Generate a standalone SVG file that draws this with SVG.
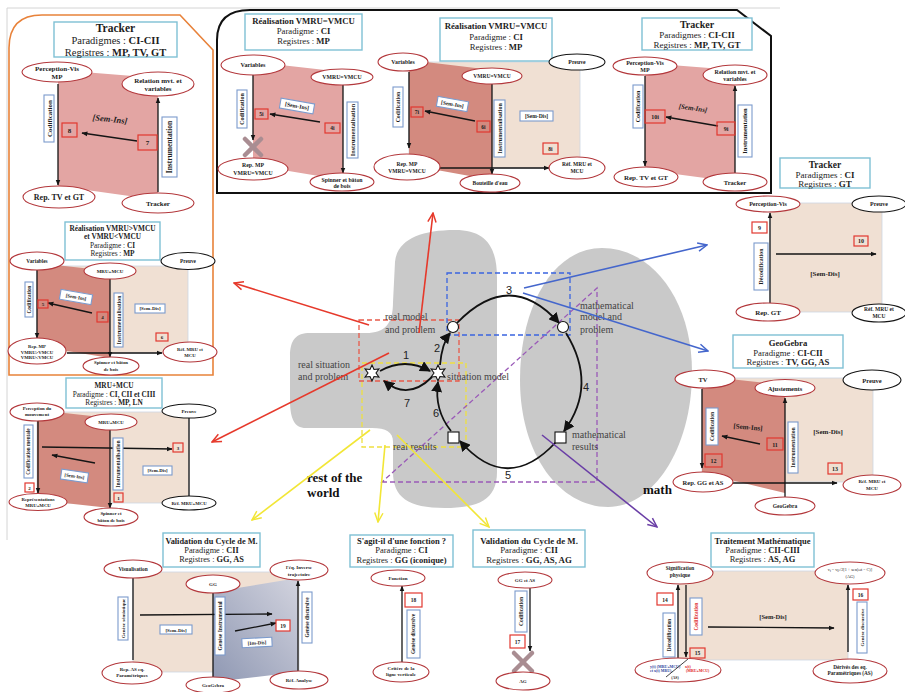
<svg xmlns="http://www.w3.org/2000/svg" width="905" height="692" viewBox="0 0 905 692">
<defs>
<style>
text{font-family:'Liberation Serif','DejaVu Serif',serif;fill:#1c1c1c;text-anchor:middle}
.b{font-weight:bold}
.i{font-style:italic;font-weight:bold}
.tb{fill:#fff;stroke:#7fc0d4;stroke-width:1.4}
.el{fill:#fff;stroke:#b3383c;stroke-width:1.1}
.ek{fill:#fff;stroke:#151515;stroke-width:1.1}
.lb{fill:#fff;stroke:#7c9bcd;stroke-width:1.1}
.nb{fill:none;stroke:#e2382f;stroke-width:1.2}
.ar{stroke:#151515;stroke-width:1.3;fill:none;marker-end:url(#a)}
.ln{stroke:#151515;stroke-width:1.3;fill:none}
.pk{fill:#e3a5a3}
.sa{fill:#d38a7f}
.be{fill:#f0e0d3;stroke:#cdd6e4;stroke-width:0.8}
.cy{stroke:#111;stroke-width:1.8;fill:none;marker-end:url(#A)}
.ct{font-family:'Liberation Serif','Times New Roman',serif;fill:#444;text-anchor:start;font-size:10px}
.cn{font-family:'Liberation Sans',sans-serif;fill:#222;font-size:11px}
.ds{fill:none;stroke-width:1.3;stroke-dasharray:5 3}
.cr{stroke:#e6392b;stroke-width:1.6;fill:none;marker-end:url(#mr)}
.cb{stroke:#4466cc;stroke-width:1.6;fill:none;marker-end:url(#mb)}
.cyl{stroke:#f2e636;stroke-width:1.6;fill:none;marker-end:url(#my)}
.cp{stroke:#6a3ea6;stroke-width:1.6;fill:none;marker-end:url(#mp)}
.x{stroke:#a98d92;stroke-width:4.5;stroke-linecap:round}
.shape{fill:#fff;stroke:#111;stroke-width:1.1}
</style>
<marker id="a" viewBox="0 0 10 10" refX="9" refY="5" markerWidth="6" markerHeight="6" markerUnits="userSpaceOnUse" orient="auto"><path d="M0,1 L10,5 L0,9 z" fill="#151515"/></marker>
<marker id="A" viewBox="0 0 10 10" refX="9" refY="5" markerWidth="11" markerHeight="11" markerUnits="userSpaceOnUse" orient="auto"><path d="M0,0 L10,5 L0,10 z" fill="#111"/></marker>
<marker id="mr" viewBox="0 0 12 12" refX="11" refY="6" markerWidth="11" markerHeight="11" markerUnits="userSpaceOnUse" orient="auto"><path d="M1,1.5 L11,6 L1,10.5" fill="none" stroke="#e6392b" stroke-width="1.6"/></marker>
<marker id="mb" viewBox="0 0 12 12" refX="11" refY="6" markerWidth="11" markerHeight="11" markerUnits="userSpaceOnUse" orient="auto"><path d="M1,1.5 L11,6 L1,10.5" fill="none" stroke="#4466cc" stroke-width="1.6"/></marker>
<marker id="my" viewBox="0 0 12 12" refX="11" refY="6" markerWidth="11" markerHeight="11" markerUnits="userSpaceOnUse" orient="auto"><path d="M1,1.5 L11,6 L1,10.5" fill="none" stroke="#f2e636" stroke-width="1.6"/></marker>
<marker id="mp" viewBox="0 0 12 12" refX="11" refY="6" markerWidth="11" markerHeight="11" markerUnits="userSpaceOnUse" orient="auto"><path d="M1,1.5 L11,6 L1,10.5" fill="none" stroke="#6a3ea6" stroke-width="1.6"/></marker>
<linearGradient id="gb" x1="0" y1="1" x2="1" y2="0"><stop offset="0" stop-color="#8f98b3"/><stop offset="1" stop-color="#d2d3de"/></linearGradient>
<polygon id="star" class="shape" points="0,-8 2,-3.5 6.9,-4 4,0 6.9,4 2,3.5 0,8 -2,3.5 -6.9,4 -4,0 -6.9,-4 -2,-3.5"/>
</defs>
<rect width="905" height="692" fill="#fff"/>
<path d="M7,540 L7,8 L780,8" fill="none" stroke="#d4d4d4" stroke-width="1"/>

<!-- frames -->
<path d="M9,375 L9,48 Q9,15 42,15 L180,15 L213,50 L213,375 Z" fill="none" stroke="#e8823a" stroke-width="1.6"/>
<path d="M217,193 L217,40 Q217,10 250,10 L737,10 L771,36 L771,193 Z" fill="none" stroke="#111" stroke-width="2"/>

<!-- centre -->
<g id="world">
<path fill="#c9c9c9" d="M455,230 C487,230 497,248 497,278 L497,472 C497,500 478,508 445,508 C408,508 393,497 393,472 L393,442 C393,432 386,428 372,428 L306,428 C294,428 290,418 290,400 L290,356 C290,340 296,333 310,333 L366,333 C385,333 393,324 393,302 L395,262 C397,240 420,230 455,230 Z"/>
<path fill="#c9c9c9" d="M602,248 C652,248 692,300 692,372 C692,450 652,507 608,507 C560,507 520,455 520,380 C520,305 554,248 602,248 Z"/>
<rect class="ds" stroke="#e85a4a" x="359" y="320" width="100" height="61"/>
<rect class="ds" stroke="#3a64e0" x="447" y="273" width="123" height="62"/>
<rect class="ds" stroke="#efe040" x="362" y="363" width="104" height="84"/>
<polygon class="ds" stroke="#9a5ab8" points="382,482 597,482 597,288"/>
<text class="ct" x="385" y="320">real model</text>
<text class="ct" x="385" y="332.5">and problem</text>
<text class="ct" x="298" y="367.5">real situation</text>
<text class="ct" x="298" y="379.5">and problem</text>
<text class="ct" x="447" y="379.5">situation model</text>
<text class="ct" x="580" y="308.5">mathematical</text>
<text class="ct" x="580" y="320">model and</text>
<text class="ct" x="580" y="332.5">problem</text>
<text class="ct" x="572" y="437.5">mathematical</text>
<text class="ct" x="572" y="450">results</text>
<text class="ct" x="393" y="450">real results</text>
<text class="b" x="307" y="482" font-size="13" style="text-anchor:start;fill:#111">rest of the</text>
<text class="b" x="307" y="497" font-size="13" style="text-anchor:start;fill:#111">world</text>
<text class="b" x="643" y="494" font-size="13" style="text-anchor:start;fill:#111">math</text>
</g>
<g id="cycle">
<path class="cy" d="M380,371 Q405,357 430,371"/>
<path class="cy" d="M432,377 Q408,401 384,381"/>
<path class="cy" d="M440,365 Q442,343 450,333"/>
<path class="cy" d="M457,323 Q510,268 559,323"/>
<path class="cy" d="M566,333 Q598,385 564,431"/>
<path class="cy" d="M556,442 Q507,495 460,441"/>
<path class="cy" d="M451,431 Q434,410 438,382"/>
<use href="#star" transform="translate(372,373)"/>
<use href="#star" transform="translate(438,373)"/>
<circle class="shape" cx="453" cy="327" r="5.5"/>
<circle class="shape" cx="563" cy="327" r="5.5"/>
<rect class="shape" x="555" y="432" width="11" height="11"/>
<rect class="shape" x="448" y="432" width="11" height="11"/>
<text class="cn" x="406" y="359">1</text>
<text class="cn" x="437" y="352">2</text>
<text class="cn" x="509" y="294">3</text>
<text class="cn" x="586" y="391">4</text>
<text class="cn" x="508" y="479">5</text>
<text class="cn" x="436" y="417">6</text>
<text class="cn" x="407" y="407">7</text>
</g>

<!-- connectors -->
<g id="connectors">
<line class="cr" x1="419" y1="333" x2="433" y2="213"/>
<line class="cr" x1="369" y1="325" x2="234" y2="283"/>
<line class="cr" x1="389" y1="353" x2="212" y2="442"/>
<line class="cb" x1="524" y1="288" x2="707" y2="245"/>
<line class="cb" x1="523" y1="293" x2="708" y2="351"/>
<line class="cyl" x1="370" y1="430" x2="252" y2="520"/>
<line class="cyl" x1="385" y1="445" x2="378" y2="522"/>
<line class="cyl" x1="397" y1="435" x2="489" y2="527"/>
<line class="cp" x1="542" y1="435" x2="657" y2="527"/>
</g>

<!-- Tracker top-left -->
<g id="tracker-1">
<rect class="tb" x="54" y="22" width="123" height="35"/>
<text x="115.5" y="32" font-size="11.5" class="b">Tracker</text>
<text x="115.5" y="44" font-size="10.5">Paradigmes : <tspan class="b">CI-CII</tspan></text>
<text x="115.5" y="55.5" font-size="10.5">Registres : <tspan class="b">MP, TV, GT</tspan></text>
<polygon class="pk" points="58,70 158,78 158,200 58,186"/>
<line class="ar" x1="58" y1="84" x2="58" y2="185"/>
<line class="ar" x1="158" y1="192" x2="158" y2="98"/>
<line class="ar" x1="137" y1="141" x2="82" y2="133"/>
<rect class="lb" x="44" y="95" width="10" height="47"/>
<text transform="rotate(-90 49 118.5)" x="49" y="121" font-size="7" class="b">Codification</text>
<rect class="lb" x="162" y="117" width="15" height="60"/>
<text transform="rotate(-90 169.5 147)" x="169.5" y="149.5" font-size="7.5" class="b">Instrumentation</text>
<text transform="rotate(6 110 119)" x="110" y="122" font-size="8.5" class="i">[Sem-Ins]</text>
<rect class="nb" x="62" y="123" width="15" height="14"/>
<text x="69.5" y="132.5" font-size="7" class="b">8</text>
<rect class="nb" x="138" y="135" width="19" height="15"/>
<text x="147.5" y="145" font-size="7" class="b">7</text>
<ellipse class="el" cx="57" cy="72" rx="35" ry="10"/>
<text x="57" y="70.5" font-size="7" class="b">Perception-Vis</text>
<text x="57" y="78.5" font-size="7" class="b">MP</text>
<ellipse class="el" cx="158" cy="84" rx="36" ry="12"/>
<text x="158" y="82.5" font-size="7" class="b">Relation mvt. et</text>
<text x="158" y="91" font-size="7" class="b">variables</text>
<ellipse class="el" cx="59" cy="197" rx="36" ry="11"/>
<text x="59" y="200" font-size="8" class="b">Rep. TV et GT</text>
<ellipse class="el" cx="158" cy="203" rx="36" ry="10"/>
<text x="158" y="206" font-size="7" class="b">Tracker</text>
</g>

<!-- Realisation VMRU>VMCU -->
<g id="realisation-ineq">
<rect class="tb" x="65" y="222" width="95" height="38"/>
<text x="112.5" y="231" font-size="7.3" class="b">Réalisation VMRU&gt;VMCU</text>
<text x="112.5" y="239" font-size="7.3" class="b">et VMRU&lt;VMCU</text>
<text x="112.5" y="247.5" font-size="7.3">Paradigme : <tspan class="b">CI</tspan></text>
<text x="112.5" y="256" font-size="7.3">Registres : <tspan class="b">MP</tspan></text>
<rect class="be" x="37" y="266" width="151" height="87"/>
<polygon class="sa" points="37,263 110,271 110,358 37,346"/>
<line class="ar" x1="37" y1="270" x2="37" y2="338"/>
<line class="ar" x1="110" y1="279" x2="110" y2="357"/>
<line class="ar" x1="67" y1="353" x2="162" y2="353"/>
<line class="ar" x1="92" y1="313" x2="48" y2="303"/>
<rect class="lb" x="25" y="282" width="8" height="35"/>
<text transform="rotate(-90 29 299.5)" x="29" y="301.4" font-size="5.3" class="b">Codification</text>
<rect class="lb" x="114" y="293" width="9" height="54"/>
<text transform="rotate(-90 118.5 320)" x="118.5" y="322" font-size="5.8" class="b">Instrumentalisation</text>
<g transform="rotate(10 76 297)"><rect class="lb" x="60" y="292" width="32" height="10"/><text x="76" y="298.8" font-size="5" class="b">[Sem-Ins]</text></g>
<rect class="lb" x="135" y="304" width="30" height="9"/>
<text x="150" y="310.3" font-size="5" class="b">[Sem-Dis]</text>
<rect class="nb" x="38" y="300" width="10" height="8"/><text x="43" y="306" font-size="5" class="b">5</text>
<rect class="nb" x="97" y="312" width="11" height="10"/><text x="102.5" y="319" font-size="5" class="b">4</text>
<rect class="nb" x="156" y="333" width="12" height="8"/><text x="162" y="339" font-size="5" class="b">6</text>
<ellipse class="el" cx="37" cy="261" rx="27" ry="9"/><text x="37" y="263" font-size="5.3" class="b">Variables</text>
<ellipse class="ek" cx="188" cy="261" rx="27" ry="8.5"/><text x="188" y="263" font-size="5.3" class="b">Preuve</text>
<ellipse class="el" cx="110" cy="271" rx="26" ry="8"/><text x="110" y="273" font-size="5" class="b">MRU+MCU</text>
<ellipse class="el" cx="37" cy="351" rx="29" ry="13"/>
<text x="37" y="348" font-size="4.8" class="b">Rep. MP</text>
<text x="37" y="353.5" font-size="4.8" class="b">VMRU&gt;VMCU</text>
<text x="37" y="359" font-size="4.8" class="b">VMRU&lt;VMCU</text>
<ellipse class="el" cx="190" cy="352" rx="27" ry="10"/>
<text x="190" y="350.5" font-size="4.8" class="b">Réf. MRU et</text>
<text x="190" y="356.7" font-size="4.8" class="b">MCU</text>
<ellipse class="el" cx="111" cy="366" rx="28" ry="9"/>
<text x="111" y="364.4" font-size="4.8" class="b">Spinner et bâton</text>
<text x="111" y="371" font-size="4.8" class="b">de bois</text>
</g>

<!-- MRU+MCU -->
<g id="mru-mcu">
<rect class="tb" x="66" y="378" width="96" height="30"/>
<text x="114" y="387.5" font-size="7.3" class="b">MRU+MCU</text>
<text x="114" y="396.5" font-size="7.3">Paradigme : <tspan class="b">CI, CII et CIII</tspan></text>
<text x="114" y="405" font-size="7.3">Registres : <tspan class="b">MP, LN</tspan></text>
<rect class="be" x="37" y="412" width="152" height="91"/>
<polygon class="sa" points="37,410 110,418 110,508 37,500"/>
<line class="ar" x1="38" y1="420" x2="38" y2="493"/>
<line class="ar" x1="110" y1="430" x2="110" y2="508"/>
<line class="ln" x1="189" y1="418" x2="189" y2="496"/>
<line class="ar" x1="42" y1="447" x2="172" y2="449"/>
<line class="ar" x1="95" y1="463" x2="52" y2="455"/>
<rect class="lb" x="24" y="425" width="9" height="53"/>
<text transform="rotate(-90 28.5 451.5)" x="28.5" y="453.3" font-size="5.2" class="b">Codification mentale</text>
<rect class="lb" x="113" y="438" width="10" height="52"/>
<text transform="rotate(-90 118 464)" x="118" y="466" font-size="5.6" class="b">Instrumentalisation</text>
<g transform="rotate(8 74.5 476)"><rect class="lb" x="61" y="471" width="27" height="10"/><text x="74.5" y="477.8" font-size="4.8" class="b">[Sem-Ins]</text></g>
<rect class="lb" x="143" y="466" width="29" height="9"/><text x="157.5" y="472.3" font-size="4.8" class="b">[Sem-Dis]</text>
<rect class="nb" x="173" y="443" width="10" height="9"/><text x="178" y="449.5" font-size="5" class="b">3</text>
<rect class="nb" x="25" y="483" width="9" height="9"/><text x="29.5" y="489.5" font-size="5" class="b">2</text>
<rect class="nb" x="114" y="493" width="9" height="9"/><text x="118.5" y="499.5" font-size="5" class="b">1</text>
<ellipse class="el" cx="37" cy="412" rx="27" ry="9"/>
<text x="37" y="410" font-size="4.8" class="b">Perception du</text>
<text x="37" y="416" font-size="4.8" class="b">mouvement</text>
<ellipse class="ek" cx="189" cy="411" rx="27" ry="7"/><text x="189" y="413" font-size="5" class="b">Preuve</text>
<ellipse class="el" cx="111" cy="422" rx="26" ry="8"/><text x="111" y="424" font-size="4.8" class="b">MRU+MCU</text>
<ellipse class="el" cx="38" cy="502" rx="29" ry="8.5"/>
<text x="38" y="500.5" font-size="4.8" class="b">Représentations</text>
<text x="38" y="506.5" font-size="4.8" class="b">MRU+MCU</text>
<ellipse class="ek" cx="189" cy="503" rx="27" ry="7"/><text x="189" y="505" font-size="4.8" class="b">Réf. MRU+MCU</text>
<ellipse class="el" cx="111" cy="517" rx="27" ry="9"/>
<text x="111" y="515" font-size="4.8" class="b">Spinner et</text>
<text x="111" y="521.7" font-size="4.8" class="b">bâton de bois</text>
</g>

<!-- Realisation VMRU=VMCU 1 -->
<g id="realisation-eq-1">
<rect class="tb" x="245" y="14" width="117" height="36"/>
<text x="303.5" y="24.3" font-size="8.7" class="b">Réalisation VMRU=VMCU</text>
<text x="303.5" y="34.3" font-size="8.7">Paradigme : <tspan class="b">CI</tspan></text>
<text x="303.5" y="44.3" font-size="8.7">Registres : <tspan class="b">MP</tspan></text>
<polygon class="pk" points="253,62 343,72 343,180 253,165"/>
<line class="ar" x1="253" y1="75" x2="253" y2="140"/>
<line class="ar" x1="343" y1="85" x2="343" y2="173"/>
<line class="ar" x1="320" y1="122" x2="270" y2="114"/>
<line class="x" x1="245" y1="139" x2="261" y2="155"/>
<line class="x" x1="261" y1="139" x2="245" y2="155"/>
<rect class="lb" x="237" y="90" width="10" height="38"/>
<text transform="rotate(-90 242 109)" x="242" y="111" font-size="6" class="b">Codification</text>
<rect class="lb" x="347" y="102" width="11" height="56"/>
<text transform="rotate(-90 352.5 130)" x="352.5" y="132" font-size="6.2" class="b">Instrumentalisation</text>
<g transform="rotate(10 297 106)"><rect class="lb" x="280" y="101" width="34" height="10"/><text x="297" y="108" font-size="5.8" class="b">[Sem-Ins]</text></g>
<rect class="nb" x="255" y="109" width="13" height="10"/><text x="261.5" y="116" font-size="5.5" class="b">5i</text>
<rect class="nb" x="325" y="123" width="15" height="10"/><text x="332.5" y="130" font-size="5.5" class="b">4i</text>
<ellipse class="el" cx="253" cy="65" rx="32" ry="10"/><text x="253" y="67.2" font-size="6.2" class="b">Variables</text>
<ellipse class="el" cx="342" cy="77" rx="31" ry="8"/><text x="342" y="79" font-size="5.8" class="b">VMRU=VMCU</text>
<ellipse class="el" cx="253" cy="169" rx="35" ry="11"/>
<text x="253" y="167" font-size="5.8" class="b">Rep. MP</text>
<text x="253" y="174.5" font-size="5.8" class="b">VMRU=VMCU</text>
<ellipse class="el" cx="342" cy="182" rx="32" ry="9"/>
<text x="342" y="181.5" font-size="5.8" class="b">Spinner et bâton</text>
<text x="342" y="188" font-size="5.8" class="b">de bois</text>
</g>

<!-- Realisation VMRU=VMCU 2 -->
<g id="realisation-eq-2">
<rect class="be" x="409" y="62" width="171" height="106"/>
<polygon class="sa" points="409,60 492,70 492,180 409,165"/>
<rect class="tb" x="440" y="18" width="112" height="43"/>
<text x="496" y="29" font-size="8.7" class="b">Réalisation VMRU=VMCU</text>
<text x="496" y="39.5" font-size="8.7">Paradigme : <tspan class="b">CI</tspan></text>
<text x="496" y="50" font-size="8.7">Registres : <tspan class="b">MP</tspan></text>
<line class="ar" x1="409" y1="72" x2="409" y2="148"/>
<line class="ar" x1="492" y1="84" x2="492" y2="174"/>
<line class="ar" x1="440" y1="168" x2="549" y2="168"/>
<line class="ar" x1="475" y1="121" x2="425" y2="111"/>
<rect class="lb" x="393" y="87" width="10" height="40"/>
<text transform="rotate(-90 398 107)" x="398" y="109" font-size="5.8" class="b">Codification</text>
<rect class="lb" x="494" y="100" width="11" height="57"/>
<text transform="rotate(-90 499.5 128.5)" x="499.5" y="130.5" font-size="6" class="b">Instrumentalisation</text>
<g transform="rotate(10 452 104)"><rect class="lb" x="437" y="99" width="31" height="10"/><text x="452.5" y="106" font-size="5.5" class="b">[Sem-Ins]</text></g>
<rect class="lb" x="520" y="111" width="33" height="10"/><text x="536.5" y="118" font-size="5.5" class="b">[Sem-Dis]</text>
<rect class="nb" x="411" y="107" width="12" height="10"/><text x="417" y="114" font-size="5.5" class="b">7i</text>
<rect class="nb" x="477" y="121" width="13" height="11"/><text x="483.5" y="128.5" font-size="5.5" class="b">6i</text>
<rect class="nb" x="543" y="143" width="15" height="11"/><text x="550.5" y="150.5" font-size="5.5" class="b">8i</text>
<ellipse class="el" cx="403" cy="62" rx="25" ry="9"/><text x="403" y="63.8" font-size="5.8" class="b">Variables</text>
<ellipse class="el" cx="492" cy="76" rx="30" ry="8"/><text x="492" y="78" font-size="5.5" class="b">VMRU=VMCU</text>
<ellipse class="ek" cx="577" cy="62" rx="28" ry="8"/><text x="577" y="64" font-size="5.8" class="b">Preuve</text>
<ellipse class="el" cx="407" cy="167" rx="33" ry="13"/>
<text x="407" y="166.3" font-size="5.5" class="b">Rep. MP</text>
<text x="407" y="172.7" font-size="5.5" class="b">VMRU=VMCU</text>
<ellipse class="el" cx="490" cy="183" rx="30" ry="9"/><text x="490" y="185" font-size="5.5" class="b">Bouteille d'eau</text>
<ellipse class="el" cx="577" cy="168" rx="28" ry="11"/>
<text x="577" y="166.3" font-size="5.5" class="b">Réf. MRU et</text>
<text x="577" y="173" font-size="5.5" class="b">MCU</text>
</g>

<!-- Tracker top-right -->
<g id="tracker-2">
<rect class="tb" x="642" y="18" width="110" height="32"/>
<text x="697" y="27.5" font-size="10" class="b">Tracker</text>
<text x="697" y="37.5" font-size="9">Paradigmes : <tspan class="b">CI-CII</tspan></text>
<text x="697" y="48" font-size="9">Registres : <tspan class="b">MP, TV, GT</tspan></text>
<polygon class="pk" points="645,63 735,70 735,182 645,170"/>
<line class="ar" x1="645" y1="76" x2="645" y2="166"/>
<line class="ar" x1="735" y1="173" x2="735" y2="86"/>
<line class="ar" x1="718" y1="126" x2="666" y2="117"/>
<rect class="lb" x="633" y="85" width="10" height="43"/>
<text transform="rotate(-90 638 106.5)" x="638" y="108.5" font-size="6" class="b">Codification</text>
<rect class="lb" x="738" y="105" width="14" height="52"/>
<text transform="rotate(-90 745 131)" x="745" y="133.3" font-size="6.5" class="b">Instrumentation</text>
<text transform="rotate(8 693 108)" x="693" y="110.5" font-size="7" class="i">[Sem-Ins]</text>
<rect class="nb" x="645" y="110" width="20" height="13"/><text x="655" y="119" font-size="6" class="b">10i</text>
<rect class="nb" x="717" y="122" width="18" height="13"/><text x="726" y="131" font-size="6" class="b">9i</text>
<ellipse class="el" cx="645" cy="66" rx="32" ry="9"/>
<text x="645" y="64.5" font-size="6" class="b">Perception-Vis</text>
<text x="645" y="71.5" font-size="6" class="b">MP</text>
<ellipse class="el" cx="735" cy="75" rx="32" ry="10"/>
<text x="735" y="73.5" font-size="6" class="b">Relation mvt. et</text>
<text x="735" y="80.5" font-size="6" class="b">variables</text>
<ellipse class="el" cx="646" cy="177" rx="32" ry="10"/><text x="646" y="179.5" font-size="7" class="b">Rep. TV et GT</text>
<ellipse class="el" cx="735" cy="182" rx="32" ry="9"/><text x="735" y="184.5" font-size="6.5" class="b">Tracker</text>
</g>

<!-- Tracker GT -->
<g id="tracker-gt">
<rect class="tb" x="780" y="158" width="90" height="30"/>
<text x="825" y="167.5" font-size="9.5" class="b">Tracker</text>
<text x="825" y="177.5" font-size="9">Paradigmes : <tspan class="b">CI</tspan></text>
<text x="825" y="187" font-size="9">Registres : <tspan class="b">GT</tspan></text>
<rect class="be" x="770" y="203" width="112" height="109"/>
<line class="ar" x1="770" y1="303" x2="770" y2="213"/>
<line class="ar" x1="776" y1="254" x2="876" y2="254"/>
<rect class="lb" x="754" y="243" width="14" height="47"/>
<text transform="rotate(-90 761 266.5)" x="761" y="268.5" font-size="5.8" class="b">Décodification</text>
<text x="825" y="276" font-size="7" class="b">[Sem-Dis]</text>
<rect class="nb" x="752" y="222" width="15" height="11"/><text x="759.5" y="229.5" font-size="6" class="b">9</text>
<rect class="nb" x="854" y="236" width="14" height="10"/><text x="861" y="243" font-size="6" class="b">10</text>
<ellipse class="el" cx="768" cy="204" rx="32" ry="8"/><text x="768" y="206" font-size="6" class="b">Perception-Vis</text>
<ellipse class="ek" cx="879" cy="204" rx="27" ry="8"/><text x="879" y="206" font-size="6" class="b">Preuve</text>
<ellipse class="el" cx="768" cy="312" rx="32" ry="9"/><text x="768" y="314.5" font-size="7" class="b">Rep. GT</text>
<ellipse class="ek" cx="879" cy="313" rx="27" ry="9"/>
<text x="879" y="311" font-size="5.5" class="b">Réf. MRU et</text>
<text x="879" y="317.5" font-size="5.5" class="b">MCU</text>
</g>

<!-- GeoGebra -->
<g id="geogebra">
<rect class="tb" x="733" y="335" width="110" height="33"/>
<text x="788" y="346" font-size="8.7" class="b">GeoGebra</text>
<text x="788" y="355.5" font-size="8.7">Paradigme : <tspan class="b">CI-CII</tspan></text>
<text x="788" y="365" font-size="8.7">Registres : <tspan class="b">TV, GG, AS</tspan></text>
<rect class="be" x="702" y="378" width="171" height="104"/>
<polygon class="sa" points="702,376 785,385 785,493 702,473"/>
<line class="ar" x1="702" y1="389" x2="702" y2="468"/>
<line class="ar" x1="785" y1="497" x2="785" y2="398"/>
<line class="ar" x1="733" y1="483" x2="837" y2="483"/>
<line class="ar" x1="760" y1="444" x2="722" y2="436"/>
<rect class="lb" x="706" y="408" width="12" height="37"/>
<text transform="rotate(-90 712 426.5)" x="712" y="428.5" font-size="5.5" class="b">Codification</text>
<rect class="lb" x="788" y="422" width="10" height="51"/>
<text transform="rotate(-90 793 447.5)" x="793" y="449.5" font-size="5.8" class="b">Instrumentation</text>
<text transform="rotate(5 748 427)" x="748" y="429.5" font-size="7" class="b">[Sem-Ins]</text>
<text x="828" y="434" font-size="7" class="b">[Sem-Dis]</text>
<rect class="nb" x="767" y="438" width="16" height="12"/><text x="775" y="446.5" font-size="6" class="b">11</text>
<rect class="nb" x="705" y="454" width="17" height="13"/><text x="713.5" y="463" font-size="6" class="b">12</text>
<rect class="nb" x="828" y="463" width="14" height="11"/><text x="835" y="470.5" font-size="6" class="b">13</text>
<ellipse class="el" cx="705" cy="379" rx="30" ry="9"/><text x="703" y="381.5" font-size="6.5" class="b">TV</text>
<ellipse class="el" cx="785" cy="388" rx="30" ry="8.5"/><text x="785" y="390.5" font-size="6.5" class="b">Ajustements</text>
<ellipse class="ek" cx="872" cy="380" rx="29" ry="10"/><text x="872" y="382.5" font-size="6.5" class="b">Preuve</text>
<ellipse class="el" cx="703" cy="482" rx="30" ry="10"/><text x="703" y="484.5" font-size="6.5" class="b">Rep. GG et AS</text>
<ellipse class="el" cx="785" cy="506" rx="30" ry="9"/><text x="785" y="508" font-size="5.5" class="b">GeoGebra</text>
<ellipse class="el" cx="872" cy="485" rx="29" ry="10"/>
<text x="872" y="483" font-size="5" class="b">Réf. MRU et</text>
<text x="872" y="489.5" font-size="5" class="b">MCU</text>
</g>

<!-- Validation 1 -->
<g id="validation-1">
<rect class="tb" x="163" y="533" width="97" height="34"/>
<text x="211.5" y="543.5" font-size="8.3" class="b">Validation du Cycle de M.</text>
<text x="211.5" y="552.5" font-size="8.3">Paradigme : <tspan class="b">CII</tspan></text>
<text x="211.5" y="562" font-size="8.3">Registres : <tspan class="b">GG, AS</tspan></text>
<rect class="be" x="133" y="572" width="166" height="100"/>
<polygon fill="url(#gb)" points="213,592 298,578 298,672 213,682"/>
<line class="ln" x1="133" y1="578" x2="133" y2="660"/>
<line class="ln" x1="213" y1="593" x2="213" y2="677"/>
<line class="ar" x1="298" y1="671" x2="298" y2="581"/>
<line class="ar" x1="140" y1="615" x2="272" y2="614"/>
<line class="ar" x1="235" y1="631" x2="276" y2="623"/>
<rect class="lb" x="118" y="597" width="10" height="43"/>
<text transform="rotate(-90 123 618.5)" x="123" y="620.3" font-size="5" class="b">Genèse sémiotique</text>
<rect class="lb" x="215" y="597" width="10" height="58"/>
<text transform="rotate(-90 220 626)" x="220" y="628" font-size="5.5" class="b">Genèse Instrumental</text>
<rect class="lb" x="302" y="592" width="10" height="51"/>
<text transform="rotate(-90 307 617.5)" x="307" y="619.3" font-size="5.3" class="b">Genèse discursive</text>
<rect class="lb" x="160" y="625" width="32" height="9"/><text x="176" y="631.5" font-size="5" class="b">[Sem-Dis]</text>
<g transform="rotate(-3 257 642.5)"><rect class="lb" x="242" y="638" width="30" height="9"/><text x="257" y="644.5" font-size="5" class="b">[Ins-Dis]</text></g>
<rect class="nb" x="276" y="620" width="14" height="11" style="fill:#fff"/><text x="283" y="627.8" font-size="5.5" class="b">19</text>
<ellipse class="el" cx="133" cy="569" rx="29" ry="9"/><text x="133" y="571" font-size="5.3" class="b">Visualisation</text>
<ellipse class="el" cx="299" cy="570" rx="29" ry="10"/>
<text x="299" y="569" font-size="5" class="b">l'éq. Inverse</text>
<text x="299" y="575.5" font-size="5" class="b">trajectoire</text>
<ellipse class="el" cx="213" cy="584" rx="27" ry="9"/><text x="213" y="586" font-size="5" class="b">GG</text>
<ellipse class="el" cx="132" cy="673" rx="30" ry="11"/>
<text x="132" y="671" font-size="5" class="b">Rep. AS eq.</text>
<text x="132" y="677.3" font-size="5" class="b">Paramétriques</text>
<ellipse class="el" cx="213" cy="685" rx="27" ry="8"/><text x="213" y="687" font-size="5" class="b">GeoGebra</text>
<ellipse class="el" cx="299" cy="680" rx="29" ry="9"/><text x="299" y="682" font-size="5" class="b">Réf. Analyse</text>
</g>

<!-- S'agit-il -->
<g id="fonction">
<rect class="tb" x="350" y="535" width="103" height="32"/>
<text x="401.5" y="543.5" font-size="8.5" class="b">S'agit-il d'une fonction ?</text>
<text x="401.5" y="553" font-size="8.5">Paradigme : <tspan class="b">CI</tspan></text>
<text x="401.5" y="562.5" font-size="8.5">Registres : <tspan class="b">GG (iconique)</tspan></text>
<line class="ar" x1="402" y1="662" x2="402" y2="586"/>
<rect class="nb" x="405" y="593" width="17" height="14"/><text x="413.5" y="602" font-size="5.5" class="b">18</text>
<rect class="lb" x="407" y="610" width="13" height="48"/>
<text transform="rotate(-90 413.5 634)" x="413.5" y="635.8" font-size="5.3" class="b">Genèse discursive</text>
<ellipse class="el" cx="398" cy="578" rx="27" ry="8"/><text x="398" y="580" font-size="5" class="b">Fonction</text>
<ellipse class="el" cx="401" cy="672" rx="28" ry="10"/>
<text x="401" y="669.5" font-size="5" class="b">Critère de la</text>
<text x="401" y="676.2" font-size="5" class="b">ligne verticale</text>
</g>

<!-- Validation 2 -->
<g id="validation-2">
<rect class="tb" x="473" y="530" width="112" height="37"/>
<text x="529" y="543.5" font-size="8.8" class="b">Validation du Cycle de M.</text>
<text x="529" y="553" font-size="8.8">Paradigme : <tspan class="b">CII</tspan></text>
<text x="529" y="563" font-size="8.8">Registres : <tspan class="b">GG, AS, AG</tspan></text>
<line class="ar" x1="530" y1="588" x2="530" y2="651"/>
<rect class="lb" x="515" y="591" width="12" height="41"/>
<text transform="rotate(-90 521 611.5)" x="521" y="613.5" font-size="5.5" class="b">Codification</text>
<rect class="nb" x="510" y="635" width="15" height="13"/><text x="517.5" y="643.5" font-size="5.5" class="b">17</text>
<line class="x" x1="514" y1="653" x2="532" y2="671"/>
<line class="x" x1="532" y1="653" x2="514" y2="671"/>
<ellipse class="el" cx="525" cy="580" rx="27" ry="8"/><text x="525" y="582" font-size="5" class="b">GG et AS</text>
<ellipse class="el" cx="523" cy="681" rx="27" ry="9"/><text x="523" y="683" font-size="5" class="b">AG</text>
</g>

<!-- Traitement Mathematique -->
<g id="traitement">
<rect class="tb" x="711" y="533" width="103" height="34"/>
<text x="762.5" y="543.5" font-size="8.5" class="b">Traitement Mathématique</text>
<text x="762.5" y="552.5" font-size="8.5">Paradigme : <tspan class="b">CII-CIII</tspan></text>
<text x="762.5" y="562" font-size="8.5">Registres : <tspan class="b">AS, AG</tspan></text>
<rect class="be" x="678" y="571" width="170" height="89"/>
<line class="ar" x1="678" y1="659" x2="678" y2="585"/>
<line class="ar" x1="686" y1="585" x2="686" y2="657"/>
<line class="ar" x1="708" y1="627" x2="834" y2="628"/>
<line class="ar" x1="848" y1="652" x2="848" y2="585"/>
<rect class="lb" x="663" y="613" width="12" height="44"/>
<text transform="rotate(-90 669 635)" x="669" y="636.8" font-size="5.3" class="b">Décodification</text>
<rect class="lb" x="690" y="598" width="12" height="37"/>
<text transform="rotate(-90 696 616.5)" x="696" y="618.3" font-size="5.3" class="b" style="fill:#e03030">Codification</text>
<text x="773" y="619" font-size="6.5" class="b">[Sem-Dis]</text>
<rect class="nb" x="657" y="593" width="16" height="12"/><text x="665" y="601.5" font-size="5.5" class="b">14</text>
<rect class="nb" x="690" y="648" width="15" height="10"/><text x="697.5" y="655" font-size="5.5" class="b">15</text>
<rect class="nb" x="853" y="589" width="15" height="11"/><text x="860.5" y="596.5" font-size="5.5" class="b">16</text>
<rect class="lb" x="857" y="602" width="10" height="51"/>
<text transform="rotate(-90 862 627.5)" x="862" y="629.2" font-size="5" class="b">Genèse discursive</text>
<ellipse class="el" cx="680" cy="573" rx="33" ry="11"/>
<text x="680" y="570" font-size="5.3" class="b">Signification</text>
<text x="680" y="576.5" font-size="5.3" class="b">physique</text>
<ellipse class="el" cx="850" cy="573" rx="35" ry="11"/>
<text x="850" y="571" font-size="4.2">v<tspan font-size="3" dy="1">t</tspan><tspan dy="-1"> = v</tspan><tspan font-size="3" dy="1">0</tspan><tspan dy="-1">√2[1 + sen(ωt − C)]</tspan></text>
<text x="850" y="577.5" font-size="4.2">(AG)</text>
<ellipse class="el" cx="678" cy="670" rx="43" ry="12"/>
<text x="650" y="667.5" font-size="3.9" class="b" style="text-anchor:start;fill:#2a3f9a">y(t) (MRU+MCU)</text>
<text x="685" y="667.5" font-size="3.9" class="b" style="text-anchor:start;fill:#e02020">x(t)</text>
<text x="650" y="672" font-size="3.9" class="b" style="text-anchor:start;fill:#2a3f9a">et x(t) MRU),</text>
<text x="686" y="672" font-size="3.9" class="b" style="text-anchor:start;fill:#e02020">(MRU+MCU)</text>
<text x="675" y="679" font-size="3.9" class="b">(AS)</text>
<line x1="666" y1="677" x2="688" y2="659" stroke="#111" stroke-width="0.8"/>
<ellipse class="el" cx="850" cy="671" rx="37" ry="12"/>
<text x="850" y="668.5" font-size="5.3" class="b">Dérivés des eq.</text>
<text x="850" y="675.3" font-size="5.3" class="b">Paramétriques (AS)</text>
</g>
</svg>
